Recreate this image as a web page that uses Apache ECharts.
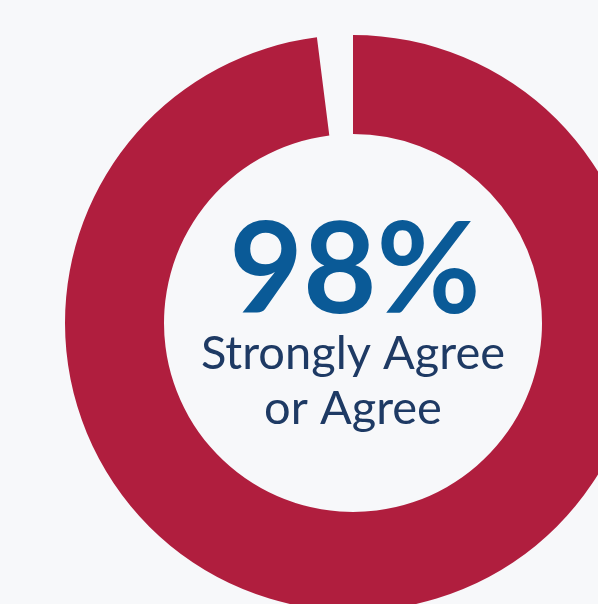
<!DOCTYPE html>
<html>
<head>
<meta charset="utf-8">
<script src="https://cdn.jsdelivr.net/npm/echarts@6/dist/echarts.min.js"></script>
<style>
html,body{margin:0;padding:0;background:#f7f8fa;}
#chart{width:598px;height:604px;}
</style>
</head>
<body>
<div id="chart"></div>
<script>
const categories = ['Strongly Agree or Agree', 'Other'];
const values = [98, 2];
const headline = '98%';
const captionLines = ['Strongly Agree', 'or Agree'];

const chart = echarts.init(document.getElementById('chart'), null, {renderer: 'canvas'});
chart.setOption({
  backgroundColor: '#f7f8fa',
  animation: false,
  series: [{
    type: 'pie',
    center: [353, 323],
    radius: [189, 288],
    startAngle: 90,
    clockwise: true,
    silent: true,
    label: {show: false},
    labelLine: {show: false},
    emphasis: {disabled: true},
    data: categories.map((c, i) => ({
      name: c,
      value: values[i],
      itemStyle: {color: i === 0 ? '#b01e3e' : 'rgba(0,0,0,0)'}
    }))
  }],
  graphic: [
    {
      type: 'text', x: 355, y: 209,
      style: {
        text: headline, textAlign: 'center', textVerticalAlign: 'top',
        font: 'bold 127px Lato', fill: '#0a5a97'
      }
    },
    {
      type: 'text', x: 353, y: 326,
      style: {
        text: captionLines.join('\n'), textAlign: 'center', textVerticalAlign: 'top',
        font: '47px Lato', lineHeight: 55, fill: '#1e3a64'
      }
    }
  ]
});
</script>
</body>
</html>
